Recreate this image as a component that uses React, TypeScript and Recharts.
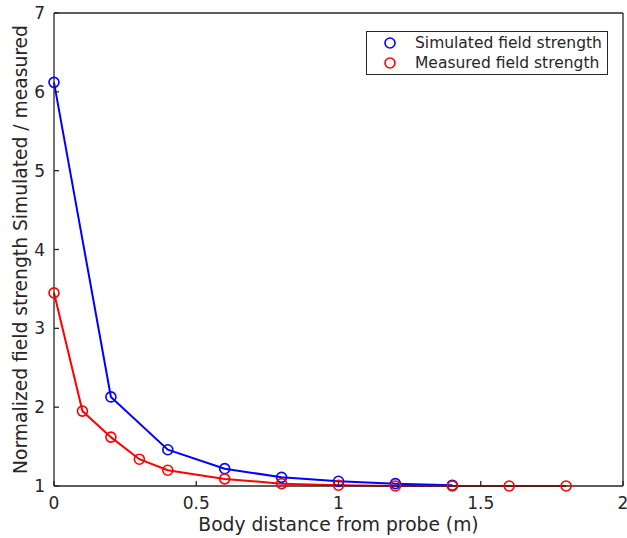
import React from 'react';
import { LineChart, Line, XAxis, YAxis, Legend, Label } from 'recharts';

// distances (m) and normalized field strength values
const simulatedX = [0, 0.2, 0.4, 0.6, 0.8, 1.0, 1.2, 1.4];
const simulatedY = [6.12, 2.13, 1.46, 1.22, 1.11, 1.06, 1.03, 1.01];
const measuredX = [0, 0.1, 0.2, 0.3, 0.4, 0.6, 0.8, 1.0, 1.2, 1.4, 1.6, 1.8];
const measuredY = [3.45, 1.95, 1.62, 1.34, 1.2, 1.09, 1.03, 1.01, 1.0, 1.0, 1.0, 1.0];

const seriesNames = ['Simulated field strength', 'Measured field strength'];
const xTicks = [0, 0.5, 1, 1.5, 2];
const yTicks = [1, 2, 3, 4, 5, 6, 7];

const simulated = simulatedX.map((x, i) => ({ x, y: simulatedY[i] }));
const measured = measuredX.map((x, i) => ({ x, y: measuredY[i] }));

const FONT = '"DejaVu Sans", sans-serif';
const INK = '#262626';
const BLUE = '#0000ff';
const RED = '#ff0000';
const TICK_LEN = 5;
const X_GAP = 11;
const Y_GAP = 9;

const axisProps = {
  stroke: INK,
  strokeWidth: 1.3,
  tickSize: 0,
  tickLine: false,
  interval: 0 as const,
};

// MATLAB-style ticks: short marks pointing into the plot
const BottomTick = ({ x, y, payload }: any) => {
  const axisY = y - X_GAP;
  return (
    <g>
      <line x1={x} x2={x} y1={axisY} y2={axisY - TICK_LEN} stroke={INK} strokeWidth={1.3} />
      <text x={x} y={y} dy="0.71em" textAnchor="middle" fill={INK} fontSize={17} fontFamily={FONT}>
        {payload.value}
      </text>
    </g>
  );
};

const LeftTick = ({ x, y, payload }: any) => {
  const axisX = x + Y_GAP;
  return (
    <g>
      <line x1={axisX} x2={axisX + TICK_LEN} y1={y} y2={y} stroke={INK} strokeWidth={1.3} />
      <text x={x} y={y} dy="0.355em" textAnchor="end" fill={INK} fontSize={17} fontFamily={FONT}>
        {payload.value}
      </text>
    </g>
  );
};

const TopTick = ({ x, y }: any) => (
  <line x1={x} x2={x} y1={y} y2={y + TICK_LEN} stroke={INK} strokeWidth={1.3} />
);

const RightTick = ({ x, y }: any) => (
  <line x1={x} x2={x - TICK_LEN} y1={y} y2={y} stroke={INK} strokeWidth={1.3} />
);

const LegendBox = ({ payload }: any) => {
  const items = [...(payload || [])].sort(
    (a: any, b: any) => seriesNames.indexOf(a.value) - seriesNames.indexOf(b.value)
  );
  return (
    <div
      style={{
        border: `1.3px solid ${INK}`,
        background: '#fff',
        fontFamily: FONT,
        fontSize: 15.5,
        color: INK,
        padding: '1px 0 2px 0',
        boxSizing: 'border-box',
        whiteSpace: 'nowrap',
        width: '100%',
        height: '100%',
      }}
    >
      {items.map((p: any) => (
        <div key={p.value} style={{ display: 'flex', alignItems: 'center', height: 20 }}>
          <svg width={44} height={20} style={{ flex: 'none' }}>
            <circle cx={23} cy={10} r={5} fill="none" stroke={p.color} strokeWidth={1.6} />
          </svg>
          <span style={{ marginLeft: 4 }}>{p.value}</span>
        </div>
      ))}
    </div>
  );
};

export default function App() {
  return (
    <div style={{ position: 'absolute', left: 0, top: 0, width: 627, height: 538, background: '#fff' }}>
      <LineChart
        width={627}
        height={538}
        margin={{ top: 12, right: 3, bottom: 22, left: 14 }}
        style={{ fontFamily: FONT }}
      >
        <XAxis
          {...axisProps}
          xAxisId="bottom"
          dataKey="x"
          type="number"
          domain={[0, 2]}
          ticks={xTicks}
          height={30}
          tickMargin={X_GAP}
          tick={<BottomTick />}
        >
          <Label
            content={({ viewBox }: any) => (
              <text
                x={viewBox.x + viewBox.width / 2}
                y={viewBox.y + 45}
                textAnchor="middle"
                fill={INK}
                fontSize={18.7}
                fontFamily={FONT}
              >
                Body distance from probe (m)
              </text>
            )}
          />
        </XAxis>
        <XAxis
          {...axisProps}
          xAxisId="top"
          orientation="top"
          type="number"
          domain={[0, 2]}
          ticks={xTicks}
          height={1}
          tickMargin={0}
          tick={<TopTick />}
        />
        <YAxis
          {...axisProps}
          yAxisId="left"
          type="number"
          domain={[1, 7]}
          ticks={yTicks}
          width={40}
          tickMargin={Y_GAP}
          tick={<LeftTick />}
        >
          <Label
            content={() => (
              <text
                transform="translate(27, 249.5) rotate(-90)"
                textAnchor="middle"
                fill={INK}
                fontSize={18.7}
                fontFamily={FONT}
              >
                Normalized field strength Simulated / measured
              </text>
            )}
          />
        </YAxis>
        <YAxis
          {...axisProps}
          yAxisId="right"
          orientation="right"
          type="number"
          domain={[1, 7]}
          ticks={yTicks}
          width={1}
          tickMargin={0}
          tick={<RightTick />}
        />
        <Legend
          layout="horizontal"
          verticalAlign="middle"
          align="center"
          content={<LegendBox />}
          wrapperStyle={{ top: 31, left: 366, width: 242, height: 44 }}
        />
        <Line
          xAxisId="bottom"
          yAxisId="left"
          data={simulated}
          dataKey="y"
          name={seriesNames[0]}
          stroke={BLUE}
          strokeWidth={2}
          dot={{ r: 5, fill: 'none', stroke: BLUE, strokeWidth: 1.6 }}
          activeDot={false}
          isAnimationActive={false}
        />
        <Line
          xAxisId="bottom"
          yAxisId="left"
          data={measured}
          dataKey="y"
          name={seriesNames[1]}
          stroke={RED}
          strokeWidth={2}
          dot={{ r: 5, fill: 'none', stroke: RED, strokeWidth: 1.6 }}
          activeDot={false}
          isAnimationActive={false}
        />
      </LineChart>
    </div>
  );
}
